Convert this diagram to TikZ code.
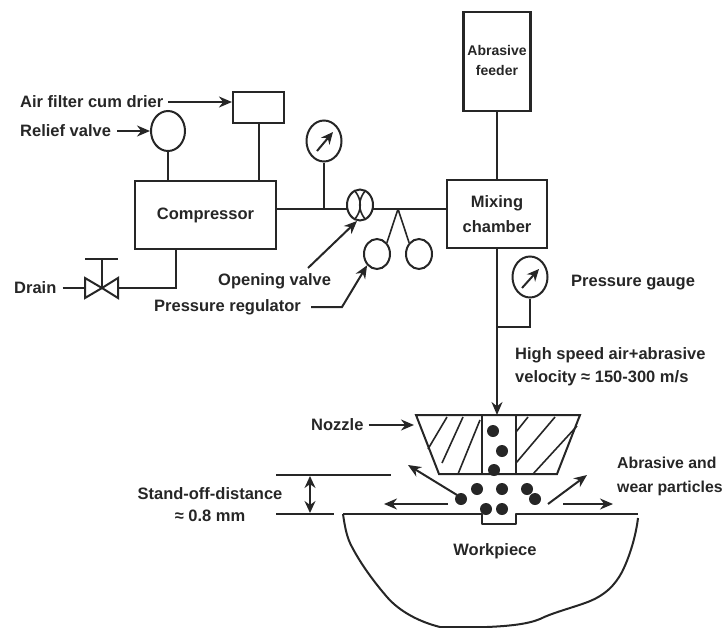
\documentclass[tikz,border=0pt]{standalone}
\usepackage{fontspec}
\setmainfont{Liberation Sans}
\usetikzlibrary{arrows.meta,shapes.geometric,calc}
\definecolor{ink}{gray}{0.15}
\tikzset{
  every node/.style={text=ink,font=\bfseries\fontsize{16.5}{19}\selectfont},
  wire/.style={draw=ink,line width=2pt},
  thin wire/.style={draw=ink,line width=1.6pt},
  pointer/.style={wire,-{Stealth[length=13pt,width=11pt]}},
  needle/.style={wire,-{Stealth[length=12pt,width=11pt]}},
  boxed/.style={draw=ink,line width=2.1pt,rectangle,inner sep=0pt},
  round part/.style={draw=ink,line width=2pt,ellipse,inner sep=0pt},
  lab/.style={anchor=west,inner sep=0pt},
  dot/.style={fill=ink,draw=none,circle,minimum size=12pt,inner sep=0pt},
}
\begin{document}
\begin{tikzpicture}[x=1pt,y=-1pt]
\useasboundingbox (0,0) rectangle (725,627);
% boxes
\node[boxed,minimum width=67pt,minimum height=99pt] (feeder) at (497,61.5) {};
\node[font=\bfseries\fontsize{14}{20}\selectfont,align=center,inner sep=0pt] (feedertext) at (497,60) {Abrasive\\feeder};
\node[boxed,minimum width=51pt,minimum height=31pt] (filter) at (258.5,107.5) {};
\node[boxed,minimum width=141pt,minimum height=68pt] (comp) at (205.5,215) {Compressor};
\node[boxed,minimum width=100pt,minimum height=68pt,align=center,font=\bfseries\fontsize{16.5}{25}\selectfont] (mix) at (497,214) {Mixing\\chamber};
% round parts
\node[round part,minimum width=34pt,minimum height=40pt] (relief) at (168,131) {};
\node[round part,minimum width=35pt,minimum height=41pt] (gaugeA) at (324,141) {};
\node[round part,minimum width=35pt,minimum height=41pt] (gaugeB) at (530,277) {};
\node[round part,minimum width=26pt,minimum height=31pt] (openv) at (360,205) {};
\node[round part,minimum width=26pt,minimum height=30pt] (regA) at (377,254) {};
\node[round part,minimum width=26pt,minimum height=30pt] (regB) at (419,254) {};
% labels
\node[lab] (tfilter) at (20,102) {Air filter cum drier};
\node[lab] (trelief) at (20,131) {Relief valve};
\node[lab] (tdrain) at (14,288) {Drain};
\node[lab] (topen) at (218,281) {Opening valve};
\node[lab] (treg) at (154,307) {Pressure regulator};
\node[lab] (tgauge) at (571,283) {Pressure gauge};
\node[lab] (thigh) at (515,355) {High speed air+abrasive};
\node[lab] (tvel) at (515,378) {velocity ≈ 150-300 m/s};
\node[lab] (tnozzle) at (311,425) {Nozzle};
\node[inner sep=0pt] (tstand) at (210,494) {Stand-off-distance};
\node[inner sep=0pt] (tmm) at (210,516) {≈ 0.8 mm};
\node[lab,font=\bfseries\fontsize{15.8}{19}\selectfont] (tabr) at (617,463) {Abrasive and};
\node[lab,font=\bfseries\fontsize{15.8}{19}\selectfont] (twear) at (617,488) {wear particles};
\node[inner sep=0pt] (twork) at (495,551) {Workpiece};
% coordinates
\coordinate (jA) at (324,209);
\coordinate (jB) at (398,209);
\coordinate (jC) at (497,327);
\coordinate (nozzleTop) at (497,415);
\coordinate (openL) at (347,209);
\coordinate (openR) at (373,209);
\coordinate (regElbow) at (342,307);
% air line
\draw[wire] (comp.east |- jA) -- (openL);
\draw[wire] (openR) -- (mix.west |- jA);
\draw[wire] (gaugeA.south) -- (jA);
\draw[wire] (relief.south) -- (relief.south |- comp.north);
\draw[wire] (filter.south) -- (filter.south |- comp.north);
\draw[wire] (feeder.south) -- (mix.north);
\draw[thin wire] (jB) -- (regA.north east);
\draw[thin wire] (jB) -- (regB.north west);
% gauge needles
\coordinate (ga1) at (317,151);\coordinate (ga2) at (333,132);
\coordinate (gb1) at (522,288);\coordinate (gb2) at (539,269);
\draw[needle] (ga1) -- (ga2);
\draw[needle] (gb1) -- (gb2);
% opening valve symbol
\draw[thin wire] (355,191) .. controls (362,200) and (362,210) .. (355,219);
\draw[thin wire] (365,191) .. controls (358,200) and (358,210) .. (365,219);
% pointers
\draw[pointer] (tfilter.east)+(5,0) -- (filter.west |- tfilter.east);
\draw[pointer] (trelief.east)+(6,0) -- (relief.west);
\draw[pointer] (308,268) -- (357,221);
\draw[pointer] (treg.east)+(10,0) -- (regElbow) -- (regA.south west);
\draw[pointer] (tnozzle.east)+(5,0) -- (414,425);
% drain
\coordinate (vc) at (102,288);
\coordinate (vl) at (85,288);
\coordinate (vr) at (118,288);
\coordinate (vh) at (102,259);
\draw[wire] (tdrain.east)+(6,0) -- (vl);
\draw[wire] (comp.south -| 176,0) -- (176,288) -- (vr);
\draw[wire,line join=miter] (85,278) -- (85,298) -- (vc) -- cycle;
\draw[wire,line join=miter] (118,278) -- (118,298) -- (vc) -- cycle;
\draw[wire] (vc) -- (vh);
\draw[wire] (85,259) -- (118,259);
% main line and second gauge
\draw[wire] (gaugeB.south) -- (gaugeB.south |- jC) -- (jC);
\draw[pointer] (mix.south) -- (nozzleTop);
% nozzle
\draw[wire,line join=miter] (416,415) -- (580,415) -- (557,474) -- (439,474) -- cycle;
\draw[wire] (482,415) -- (482,474);
\draw[wire] (516,415) -- (516,474);
\begin{scope}[thin wire]
\draw (447,417) -- (428,449);
\draw (463,417) -- (442,463);
\draw (480,420) -- (458,474);
\draw (528,417) -- (516,432);
\draw (555,417) -- (516,463);
\draw (577,426) -- (533,474);
\end{scope}
% particles
\node[dot] (pa) at (493,431) {};
\node[dot] (pb) at (502,451) {};
\node[dot] (pc) at (494,470) {};
\node[dot] (pd) at (477,489) {};
\node[dot] (pe) at (502,489) {};
\node[dot] (pf) at (527,489) {};
\node[dot] (pg) at (535,499) {};
\node[dot] (ph) at (461,499) {};
\node[dot] (pi) at (486,509) {};
\node[dot] (pj) at (502,509) {};
% particle arrows
\draw[pointer] (457,495) -- (408,465);
\draw[pointer] (448,504) -- (384,504);
\draw[pointer] (548,504) -- (587,475);
\draw[pointer] (563,504) -- (613,504);
% stand-off
\draw[wire] (276,475) -- (391,475);
\draw[wire] (276,514) -- (334,514);
\draw[thin wire,{Stealth[length=12pt,width=11pt]}-{Stealth[length=12pt,width=11pt]}] (310,476) -- (310,513);
% workpiece
\draw[wire,line join=round] (343,514) -- (482,514) -- (482,524) -- (516,524) -- (516,514) -- (638,514);
\draw[wire,line join=round] (343,514) .. controls (345,528) and (347,538) .. (352,547)
  .. controls (362,566) and (375,583) .. (387,597)
  .. controls (400,612) and (420,622) .. (440,627)
  -- (487,627) .. controls (510,626) and (528,624) .. (540,619)
  .. controls (552,613) and (568,609) .. (585,603)
  .. controls (605,596) and (615,585) .. (622,572)
  .. controls (630,556) and (636,535) .. (638,518);
\end{tikzpicture}
\end{document}
